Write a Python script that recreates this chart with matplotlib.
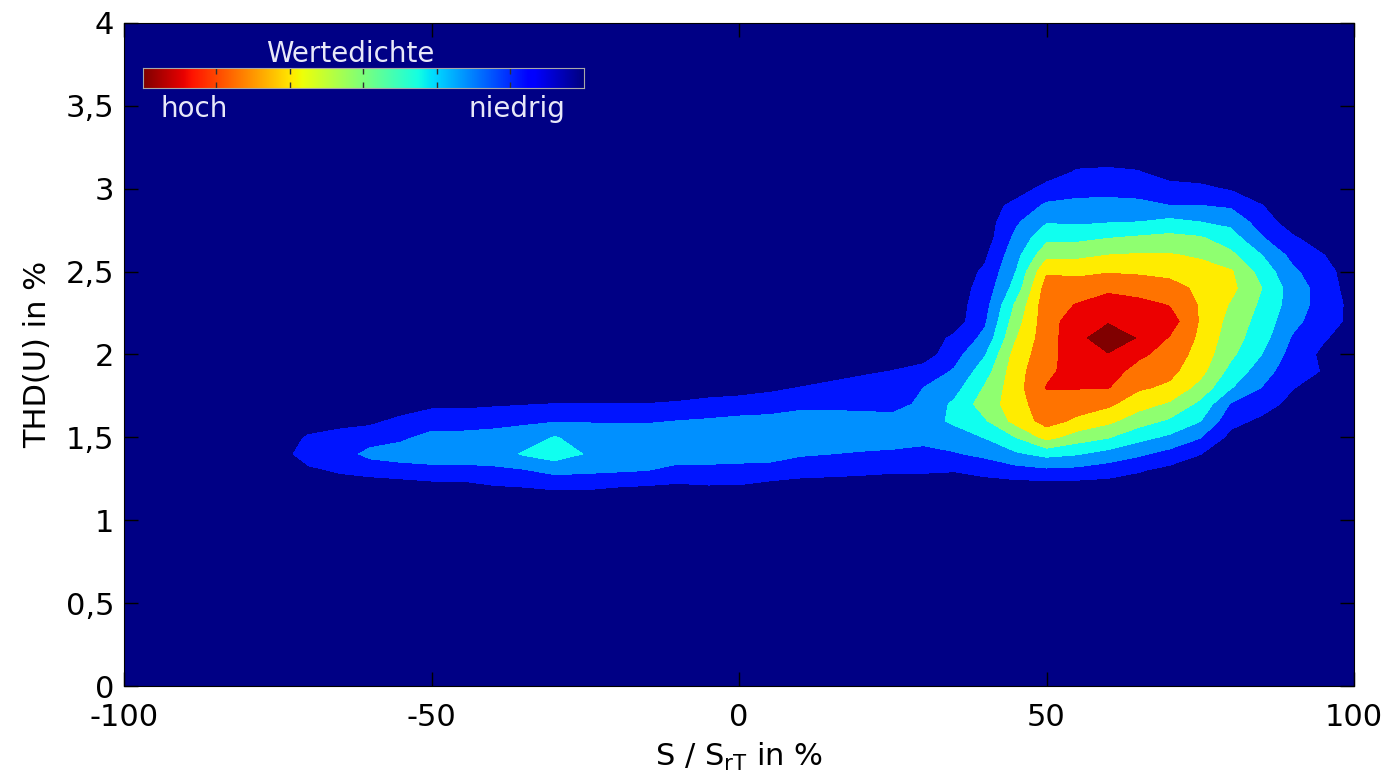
import numpy as np
import matplotlib.pyplot as plt

plt.rcParams['font.family'] = 'DejaVu Sans'
plt.rcParams['axes.unicode_minus'] = False

# Raster der Wertedichte (x: S/SrT in %, y: THD(U) in %)
x_werte = np.arange(-80, 101, 5)
y_werte = np.round(np.arange(1.1, 3.25, 0.1), 1)

# eine Zeile je y-Wert, Spalten x = -80 ... 100
dichte = [
    [0] * 37,  # 1.1
    [0, 0, 0, 0, 0, 0, .1, .1, .4, .5, .6, .6, .5, .4, .3, .4, .4, .2, 0, 0, 0, 0, 0, 0, 0, 0, 0, 0, 0, 0, 0, 0, 0, 0, 0, 0, 0],  # 1.2
    [0, 0, .3, .6, .8, 1, 1.2, 1.2, 1.3, 1.4, 1.8, 1.7, 1.6, 1.5, 1.2, 1.2, 1.1, 1, .9, .8, .7, .6, .6, .54, .8, 1.1, 1.27, 1.2, .95, .57, .2, 0, 0, 0, 0, 0, 0],  # 1.3
    [0, 0, 1, 1, 1.8, 2, 2, 2, 2, 2.6, 3, 2.45, 2, 2, 2, 2, 2, 2, 1.6, 1.5, 1.4, 1.3, 1.3, 1.41, 1.74, 2.34, 2.8, 2.57, 2.12, 1.67, 1.15, .52, 0, 0, 0, 0, 0],  # 1.4
    [0, 0, .6, 1, 1, 1.3, 1.8, 1.8, 2, 2, 2.55, 2.2, 2, 2, 2, 2, 2, 2, 2, 2, 2, 2, 1.7, 2.05, 2.54, 3.5, 4.81, 4.0, 3.56, 2.81, 2.31, 1.55, .2, 0, 0, 0, 0],  # 1.5
    [0, 0, 0, 0, .3, .7, 1, 1, 1, 1.3, 1.4, 1.4, 1.4, 1.4, 1.5, 1.6, 1.7, 1.8, 2, 2, 2, 2, 2.1, 2.67, 3.38, 4.85, 5.9, 5.31, 4.75, 3.95, 3.35, 2.54, .82, .3, 0, 0, 0],  # 1.6
    [0, 0, 0, 0, 0, 0, .3, .3, .4, .45, .52, .52, .52, .52, .6, .8, 1, 1, 1.2, 1.2, 1.1, 1, 1.8, 2.67, 4.0, 5.0, 6.2, 5.96, 5.69, 4.89, 4.34, 3.24, 1.4, .92, .2, 0, 0],  # 1.7
    [0, 0, 0, 0, 0, 0, 0, 0, 0, 0, 0, 0, 0, 0, 0, 0, 0, .3, .52, .8, 1, 1, 1.5, 2.11, 3.6, 5.1, 6.55, 6.55, 6.55, 5.64, 5.31, 4.14, 2.56, 1.47, .55, 0, 0],  # 1.8
    [0, 0, 0, 0, 0, 0, 0, 0, 0, 0, 0, 0, 0, 0, 0, 0, 0, 0, 0, 0, .3, .52, .9, 1.59, 3.03, 5.1, 6.25, 7.0, 6.95, 6.12, 5.77, 4.85, 3.15, 1.98, .85, .45, 0],  # 1.9
    [0, 0, 0, 0, 0, 0, 0, 0, 0, 0, 0, 0, 0, 0, 0, 0, 0, 0, 0, 0, 0, 0, 0, 1.12, 2.43, 4.9, 6.1, 7.1, 7.41, 6.7, 6.1, 5.1, 3.7, 2.5, 1.1, .3, 0],  # 2.0
    [0, 0, 0, 0, 0, 0, 0, 0, 0, 0, 0, 0, 0, 0, 0, 0, 0, 0, 0, 0, 0, 0, 0, .67, 1.77, 4.42, 6.1, 7.1, 8.3, 7.4, 6.43, 5.3, 3.95, 2.9, 1.4, .6, 0],  # 2.1
    [0, 0, 0, 0, 0, 0, 0, 0, 0, 0, 0, 0, 0, 0, 0, 0, 0, 0, 0, 0, 0, 0, 0, 0, 1.36, 4.04, 6.1, 7.0, 7.36, 7.2, 7.0, 5.4, 4.15, 3.1, 1.8, .9, .25],  # 2.2
    [0, 0, 0, 0, 0, 0, 0, 0, 0, 0, 0, 0, 0, 0, 0, 0, 0, 0, 0, 0, 0, 0, 0, 0, 1.12, 3.65, 6.1, 6.55, 6.88, 6.8, 6.45, 5.4, 4.4, 3.3, 2.05, 1.05, .2],  # 2.3
    [0, 0, 0, 0, 0, 0, 0, 0, 0, 0, 0, 0, 0, 0, 0, 0, 0, 0, 0, 0, 0, 0, 0, 0, .88, 2.9, 5.95, 5.97, 6.32, 6.07, 5.85, 5.3, 4.75, 3.5, 2.05, 1.05, 0],  # 2.4
    [0, 0, 0, 0, 0, 0, 0, 0, 0, 0, 0, 0, 0, 0, 0, 0, 0, 0, 0, 0, 0, 0, 0, 0, .64, 2.5, 5.38, 5.28, 5.41, 5.35, 5.23, 4.9, 4.6, 3.1, 1.7, .85, 0],  # 2.5
    [0, 0, 0, 0, 0, 0, 0, 0, 0, 0, 0, 0, 0, 0, 0, 0, 0, 0, 0, 0, 0, 0, 0, 0, .35, 2.13, 4.2, 4.23, 4.5, 4.58, 4.57, 4.36, 3.72, 2.5, 1.2, .52, 0],  # 2.6
    [0, 0, 0, 0, 0, 0, 0, 0, 0, 0, 0, 0, 0, 0, 0, 0, 0, 0, 0, 0, 0, 0, 0, 0, 0, 1.76, 3.25, 3.28, 3.5, 3.68, 3.81, 3.64, 2.97, 1.6, .65, 0, 0],  # 2.7
    [0, 0, 0, 0, 0, 0, 0, 0, 0, 0, 0, 0, 0, 0, 0, 0, 0, 0, 0, 0, 0, 0, 0, 0, 0, 1.33, 2.42, 2.32, 2.43, 2.5, 2.75, 2.5, 2.23, 1.0, 0, 0, 0],  # 2.8
    [0, 0, 0, 0, 0, 0, 0, 0, 0, 0, 0, 0, 0, 0, 0, 0, 0, 0, 0, 0, 0, 0, 0, 0, 0, .78, 1.65, 1.74, 1.77, 1.73, 1.5, 1.5, 1.32, .52, 0, 0, 0],  # 2.9
    [0, 0, 0, 0, 0, 0, 0, 0, 0, 0, 0, 0, 0, 0, 0, 0, 0, 0, 0, 0, 0, 0, 0, 0, 0, 0, .83, 1.17, 1.2, 1.11, .91, .71, .4, 0, 0, 0, 0],  # 3.0
    [0, 0, 0, 0, 0, 0, 0, 0, 0, 0, 0, 0, 0, 0, 0, 0, 0, 0, 0, 0, 0, 0, 0, 0, 0, 0, 0, .61, .7, .56, 0, 0, 0, 0, 0, 0, 0],  # 3.1
    [0] * 37,  # 3.2
]

stufen = [-1, 0.5, 1.5, 2.5, 3.5, 4.5, 5.5, 6.5, 7.5, 20]
farben = ['#000085', '#0014ff', '#0090ff', '#10ffef', '#8fff70',
          '#ffec00', '#ff7300', '#ec0000', '#800000']

x_ticks = [-100, -50, 0, 50, 100]
y_ticks = [0, 0.5, 1, 1.5, 2, 2.5, 3, 3.5, 4]
y_tick_labels = ['0', '0,5', '1', '1,5', '2', '2,5', '3', '3,5', '4']

fig = plt.figure(figsize=(13.92, 7.84), dpi=100)
ax = fig.add_axes([0.0891, 0.125, 0.8836, 0.8457])
ax.set_facecolor(farben[0])
ax.contourf(x_werte, y_werte, np.array(dichte), levels=stufen, colors=farben)

ax.set_xlim(-100, 100)
ax.set_ylim(0, 4)
ax.set_xticks(x_ticks)
ax.set_yticks(y_ticks)
ax.set_yticklabels(y_tick_labels)
ax.tick_params(direction='in', length=10, width=1, top=True, right=True,
               labelsize=22)
ax.tick_params(axis='x', pad=12)
ax.tick_params(axis='y', pad=7)
ax.set_xlabel('S / S$_\\mathregular{rT}$ in %', fontsize=22, labelpad=7)
ax.set_ylabel('THD(U) in %', fontsize=22, labelpad=10)

# Farbskala oben links
cax = ax.inset_axes([0.0154, 0.9015, 0.3585, 0.031])
cax.imshow(np.linspace(0, 1, 256)[None, :], cmap='jet_r', aspect='auto',
           extent=[0, 1, 0, 1])
cax.set_xticks([1 / 6, 2 / 6, 3 / 6, 4 / 6, 5 / 6])
cax.set_yticks([])
cax.tick_params(direction='in', length=4, width=1, top=True, bottom=True,
                labelbottom=False, color='#303030')
for s in cax.spines.values():
    s.set_color('#a8a8a8')

txt = '#e8e8f8'
ax.text(0.1837, 0.941, 'Wertedichte', transform=ax.transAxes, color=txt,
        fontsize=20, ha='center', va='baseline')
ax.text(0.0293, 0.858, 'hoch', transform=ax.transAxes, color=txt,
        fontsize=20, ha='left', va='baseline')
ax.text(0.3585, 0.858, 'niedrig', transform=ax.transAxes, color=txt,
        fontsize=20, ha='right', va='baseline')

fig.savefig('out.png', dpi=100)
